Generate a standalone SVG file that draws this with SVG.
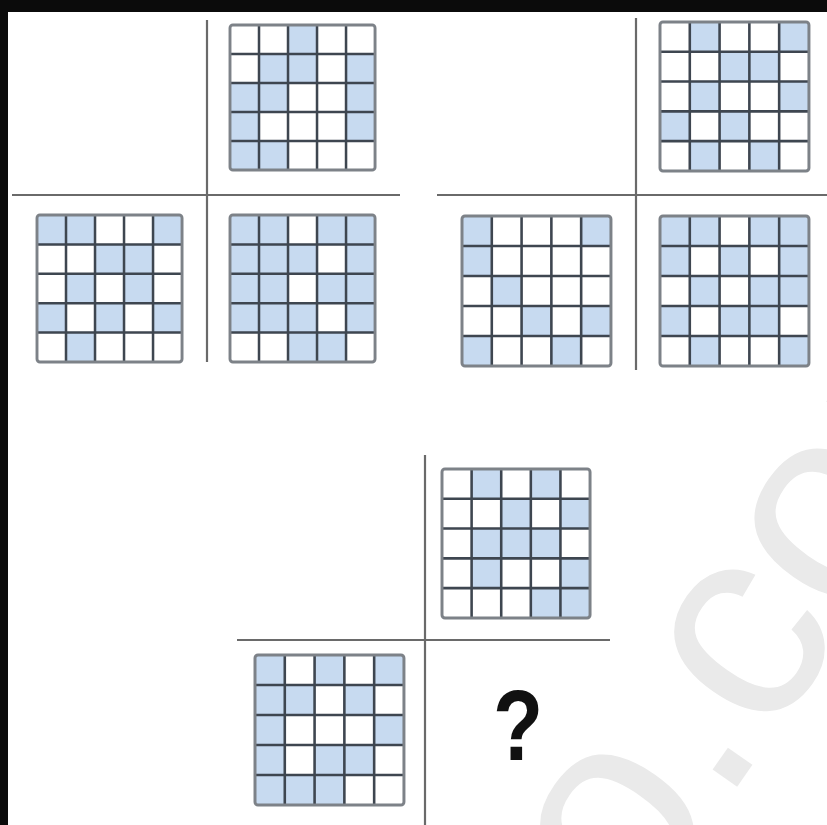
<svg xmlns="http://www.w3.org/2000/svg" xmlns:xlink="http://www.w3.org/1999/xlink" width="827" height="825" viewBox="0 0 827 825">
<style>
.s{fill:#c7daf0}
.inner{fill:none;stroke:#3e4650;stroke-width:2.6}
.outer{fill:none;stroke:#7d8288;stroke-width:3}
.sep{stroke:#6a6a6a;stroke-width:2.2}
.wm{font-family:"Liberation Sans",Arial,sans-serif;font-size:280px;fill:#eaeaea}
.q{font-family:"Liberation Sans",Arial,sans-serif;font-weight:bold;font-size:100px;fill:#111}
</style>
<defs>
<g id="lines">
<path class="inner" d="M30 0V150M60 0V150M90 0V150M120 0V150M0 30H150M0 60H150M0 90H150M0 120H150"/>
<rect class="outer" width="150" height="150" rx="3"/>
</g>
</defs>
<rect width="827" height="825" fill="#fff"/>
<text class="wm" transform="translate(767,744) rotate(-55)" x="-747">jyeoo.com</text>
<rect x="0" y="0" width="827" height="12" fill="#0b0b0b"/>
<rect x="0" y="0" width="8" height="825" fill="#0b0b0b"/>
<g id="connectors">
<line class="sep" x1="207" y1="20" x2="207" y2="362"/>
<line class="sep" x1="12" y1="195" x2="400" y2="195"/>
<line class="sep" x1="636" y1="18" x2="636" y2="370"/>
<line class="sep" x1="437" y1="195" x2="827" y2="195"/>
<line class="sep" x1="425" y1="455" x2="425" y2="825"/>
<line class="sep" x1="237" y1="640" x2="610" y2="640"/>
</g>
<g id="grid1" transform="translate(230,25) scale(0.967,0.967)">
<rect class="s" x="60" y="0" width="30" height="30"/>
<rect class="s" x="30" y="30" width="30" height="30"/><rect class="s" x="60" y="30" width="30" height="30"/><rect class="s" x="120" y="30" width="30" height="30"/>
<rect class="s" x="0" y="60" width="30" height="30"/><rect class="s" x="30" y="60" width="30" height="30"/><rect class="s" x="120" y="60" width="30" height="30"/>
<rect class="s" x="0" y="90" width="30" height="30"/><rect class="s" x="120" y="90" width="30" height="30"/>
<rect class="s" x="0" y="120" width="30" height="30"/><rect class="s" x="30" y="120" width="30" height="30"/>
<use xlink:href="#lines" href="#lines"/>
</g>
<g id="grid2" transform="translate(37,215) scale(0.967,0.98)">
<rect class="s" x="0" y="0" width="30" height="30"/><rect class="s" x="30" y="0" width="30" height="30"/><rect class="s" x="120" y="0" width="30" height="30"/>
<rect class="s" x="60" y="30" width="30" height="30"/><rect class="s" x="90" y="30" width="30" height="30"/>
<rect class="s" x="30" y="60" width="30" height="30"/><rect class="s" x="90" y="60" width="30" height="30"/>
<rect class="s" x="0" y="90" width="30" height="30"/><rect class="s" x="60" y="90" width="30" height="30"/><rect class="s" x="120" y="90" width="30" height="30"/>
<rect class="s" x="30" y="120" width="30" height="30"/>
<use xlink:href="#lines" href="#lines"/>
</g>
<g id="grid3" transform="translate(230,215) scale(0.967,0.98)">
<rect class="s" x="0" y="0" width="30" height="30"/><rect class="s" x="30" y="0" width="30" height="30"/><rect class="s" x="90" y="0" width="30" height="30"/><rect class="s" x="120" y="0" width="30" height="30"/>
<rect class="s" x="0" y="30" width="30" height="30"/><rect class="s" x="30" y="30" width="30" height="30"/><rect class="s" x="60" y="30" width="30" height="30"/><rect class="s" x="120" y="30" width="30" height="30"/>
<rect class="s" x="0" y="60" width="30" height="30"/><rect class="s" x="30" y="60" width="30" height="30"/><rect class="s" x="90" y="60" width="30" height="30"/><rect class="s" x="120" y="60" width="30" height="30"/>
<rect class="s" x="0" y="90" width="30" height="30"/><rect class="s" x="30" y="90" width="30" height="30"/><rect class="s" x="60" y="90" width="30" height="30"/><rect class="s" x="120" y="90" width="30" height="30"/>
<rect class="s" x="60" y="120" width="30" height="30"/><rect class="s" x="90" y="120" width="30" height="30"/>
<use xlink:href="#lines" href="#lines"/>
</g>
<g id="grid4" transform="translate(660,22) scale(0.993,0.993)">
<rect class="s" x="30" y="0" width="30" height="30"/><rect class="s" x="120" y="0" width="30" height="30"/>
<rect class="s" x="60" y="30" width="30" height="30"/><rect class="s" x="90" y="30" width="30" height="30"/>
<rect class="s" x="30" y="60" width="30" height="30"/><rect class="s" x="120" y="60" width="30" height="30"/>
<rect class="s" x="0" y="90" width="30" height="30"/><rect class="s" x="60" y="90" width="30" height="30"/>
<rect class="s" x="30" y="120" width="30" height="30"/><rect class="s" x="90" y="120" width="30" height="30"/>
<use xlink:href="#lines" href="#lines"/>
</g>
<g id="grid5" transform="translate(462,216) scale(0.993,1)">
<rect class="s" x="0" y="0" width="30" height="30"/><rect class="s" x="120" y="0" width="30" height="30"/>
<rect class="s" x="0" y="30" width="30" height="30"/>
<rect class="s" x="30" y="60" width="30" height="30"/>
<rect class="s" x="60" y="90" width="30" height="30"/><rect class="s" x="120" y="90" width="30" height="30"/>
<rect class="s" x="0" y="120" width="30" height="30"/><rect class="s" x="90" y="120" width="30" height="30"/>
<use xlink:href="#lines" href="#lines"/>
</g>
<g id="grid6" transform="translate(660,216) scale(0.993,1)">
<rect class="s" x="0" y="0" width="30" height="30"/><rect class="s" x="30" y="0" width="30" height="30"/><rect class="s" x="90" y="0" width="30" height="30"/><rect class="s" x="120" y="0" width="30" height="30"/>
<rect class="s" x="0" y="30" width="30" height="30"/><rect class="s" x="60" y="30" width="30" height="30"/><rect class="s" x="120" y="30" width="30" height="30"/>
<rect class="s" x="30" y="60" width="30" height="30"/><rect class="s" x="90" y="60" width="30" height="30"/><rect class="s" x="120" y="60" width="30" height="30"/>
<rect class="s" x="0" y="90" width="30" height="30"/><rect class="s" x="60" y="90" width="30" height="30"/><rect class="s" x="90" y="90" width="30" height="30"/>
<rect class="s" x="30" y="120" width="30" height="30"/><rect class="s" x="120" y="120" width="30" height="30"/>
<use xlink:href="#lines" href="#lines"/>
</g>
<g id="grid7" transform="translate(442,469) scale(0.987,0.993)">
<rect class="s" x="30" y="0" width="30" height="30"/><rect class="s" x="90" y="0" width="30" height="30"/>
<rect class="s" x="60" y="30" width="30" height="30"/><rect class="s" x="120" y="30" width="30" height="30"/>
<rect class="s" x="30" y="60" width="30" height="30"/><rect class="s" x="60" y="60" width="30" height="30"/><rect class="s" x="90" y="60" width="30" height="30"/>
<rect class="s" x="30" y="90" width="30" height="30"/><rect class="s" x="120" y="90" width="30" height="30"/>
<rect class="s" x="90" y="120" width="30" height="30"/><rect class="s" x="120" y="120" width="30" height="30"/>
<use xlink:href="#lines" href="#lines"/>
</g>
<g id="grid8" transform="translate(255,655) scale(0.993,1)">
<rect class="s" x="0" y="0" width="30" height="30"/><rect class="s" x="60" y="0" width="30" height="30"/><rect class="s" x="120" y="0" width="30" height="30"/>
<rect class="s" x="0" y="30" width="30" height="30"/><rect class="s" x="30" y="30" width="30" height="30"/><rect class="s" x="90" y="30" width="30" height="30"/>
<rect class="s" x="0" y="60" width="30" height="30"/><rect class="s" x="120" y="60" width="30" height="30"/>
<rect class="s" x="0" y="90" width="30" height="30"/><rect class="s" x="60" y="90" width="30" height="30"/><rect class="s" x="90" y="90" width="30" height="30"/>
<rect class="s" x="0" y="120" width="30" height="30"/><rect class="s" x="30" y="120" width="30" height="30"/><rect class="s" x="60" y="120" width="30" height="30"/>
<use xlink:href="#lines" href="#lines"/>
</g>
<g id="question">
<text class="q" transform="translate(518,760) scale(0.82,1)" text-anchor="middle">?</text>
</g>
</svg>
